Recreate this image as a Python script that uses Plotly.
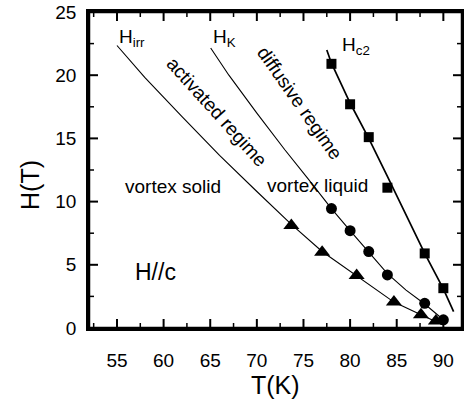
import plotly.graph_objects as go

# ---- data ----
# Hc2 (squares)
hc2_T = [78, 80, 82, 84, 88, 90]
hc2_H = [20.9, 17.7, 15.1, 11.1, 5.9, 3.15]
hc2_line_T = [77.5, 78, 80, 82, 84, 86, 88, 90, 91.1]
hc2_line_H = [22.0, 20.95, 17.8, 15.0, 12.0, 8.95, 5.9, 3.1, 1.3]

# HK (circles)
hk_T = [78, 80, 82, 84, 88, 90]
hk_H = [9.45, 7.7, 6.05, 4.2, 1.95, 0.65]
hk_line_T = [65.05, 67, 70, 73, 75.5, 78, 80, 82, 84, 86, 88, 90, 90.4]
hk_line_H = [22.15, 20.0, 17.0, 14.1, 11.8, 9.45, 7.7, 6.0, 4.3, 3.0, 1.9, 0.65, 0.4]

# Hirr (triangles)
hirr_T = [73.7, 77, 80.7, 84.7, 87.6, 89.2]
hirr_H = [8.1, 6.0, 4.15, 2.05, 1.05, 0.55]
hirr_line_T = [55, 58, 62, 66, 70, 73.7, 77, 80.7, 84.7, 87.6, 89.2, 89.8]
hirr_line_H = [22.35, 19.8, 16.7, 13.65, 10.8, 8.2, 6.05, 4.15, 2.05, 1.05, 0.55, 0.3]

x_ticks = [55, 60, 65, 70, 75, 80, 85, 90]
y_ticks = [0, 5, 10, 15, 20, 25]
x_minor_ticks = [52.5, 57.5, 62.5, 67.5, 72.5, 77.5, 82.5, 87.5]
y_minor_ticks = [2.5, 7.5, 12.5, 17.5, 22.5]
x_range = [52, 92]
y_range = [0, 25]

FONT = "Liberation Sans, Arial, Helvetica, sans-serif"

fig = go.Figure()
fig.add_trace(go.Scatter(x=hirr_line_T, y=hirr_line_H, mode="lines",
                         line=dict(color="black", width=1.1), showlegend=False))
fig.add_trace(go.Scatter(x=hk_line_T, y=hk_line_H, mode="lines",
                         line=dict(color="black", width=1.1), showlegend=False))
fig.add_trace(go.Scatter(x=hc2_line_T, y=hc2_line_H, mode="lines",
                         line=dict(color="black", width=1.7), showlegend=False))
fig.add_trace(go.Scatter(x=hirr_T, y=hirr_H, mode="markers",
                         marker=dict(symbol="triangle-up", size=14, color="black"),
                         showlegend=False))
fig.add_trace(go.Scatter(x=hk_T, y=hk_H, mode="markers",
                         marker=dict(symbol="circle", size=11, color="black"),
                         showlegend=False))
fig.add_trace(go.Scatter(x=hc2_T, y=hc2_H, mode="markers",
                         marker=dict(symbol="square", size=10, color="black"),
                         showlegend=False))

# plot area in pixels: x 89..462, y 12..328
PL, PR, PT, PB = 89.0, 462.0, 12.0, 328.0
def px(xp):
    return (xp - PL) / (PR - PL)
def py(yp):
    return (PB - yp) / (PB - PT)

label_axis = dict(showline=True, linecolor="black", linewidth=2.5, mirror=True,
                  ticks="outside", tickcolor="rgba(0,0,0,0)", tickwidth=1,
                  showgrid=False, zeroline=False, tickmode="array",
                  tickfont=dict(family=FONT, size=19, color="black"))

fig.update_layout(
    template="none",
    width=464, height=407,
    margin=dict(l=89, r=2, t=12, b=79),
    plot_bgcolor="white", paper_bgcolor="white",
    showlegend=False,
    xaxis=dict(range=x_range, tickvals=x_ticks, ticklen=13, **label_axis),
    yaxis=dict(range=y_range, tickvals=y_ticks, ticklen=6, **label_axis),
)

# inward tick marks on all four sides (pixel-sized shapes anchored at the axis values)
def xtick(v, length, width):
    for anchor, sign in ((0, 1), (1, -1)):
        fig.add_shape(type="line", xref="x", yref="paper", x0=v, x1=v,
                      ysizemode="pixel", yanchor=anchor, y0=0, y1=sign * length,
                      line=dict(color="black", width=width), layer="above")

def ytick(v, length, width):
    for anchor, sign in ((0, 1), (1, -1)):
        fig.add_shape(type="line", yref="y", xref="paper", y0=v, y1=v,
                      xsizemode="pixel", xanchor=anchor, x0=0, x1=sign * length,
                      line=dict(color="black", width=width), layer="above")

for v in x_ticks:
    xtick(v, 9, 2)
for v in x_minor_ticks:
    xtick(v, 5, 1.5)
for v in y_ticks:
    ytick(v, 9, 2)
for v in y_minor_ticks:
    ytick(v, 5, 1.5)

# frame
fig.add_shape(type="rect", xref="paper", yref="paper", x0=0, x1=1, y0=0, y1=1,
              line=dict(color="black", width=2.5), layer="above")

def ann(x, y, text, size=19, angle=0, xanchor="center", yanchor="middle"):
    fig.add_annotation(x=x, y=y, xref="x", yref="y", text=text, showarrow=False,
                       textangle=angle, xanchor=xanchor, yanchor=yanchor,
                       font=dict(family=FONT, size=size, color="black"))

ann(55.0, 22.95, "H<sub>irr</sub>", xanchor="left")
ann(65.05, 22.95, "H<sub>K</sub>", xanchor="left")
ann(78.9, 22.3, "H<sub>c2</sub>", xanchor="left")
ann(65.66, 17.1, "activated regime", angle=48)
ann(74.62, 17.75, "diffusive regime", angle=55)
ann(61.0, 11.2, "vortex solid")
ann(76.55, 11.25, "vortex liquid")
ann(59.1, 4.4, "H//c", size=23)

# axis titles (paper coordinates, outside the plot area)
fig.add_annotation(x=px(275), y=py(385), xref="paper", yref="paper", text="T(K)",
                   showarrow=False, xanchor="center", yanchor="middle",
                   font=dict(family=FONT, size=25, color="black"))
fig.add_annotation(x=px(30), y=py(185), xref="paper", yref="paper", text="H(T)",
                   showarrow=False, textangle=-90, xanchor="center", yanchor="middle",
                   font=dict(family=FONT, size=25, color="black"))

fig.write_html("out.html")
